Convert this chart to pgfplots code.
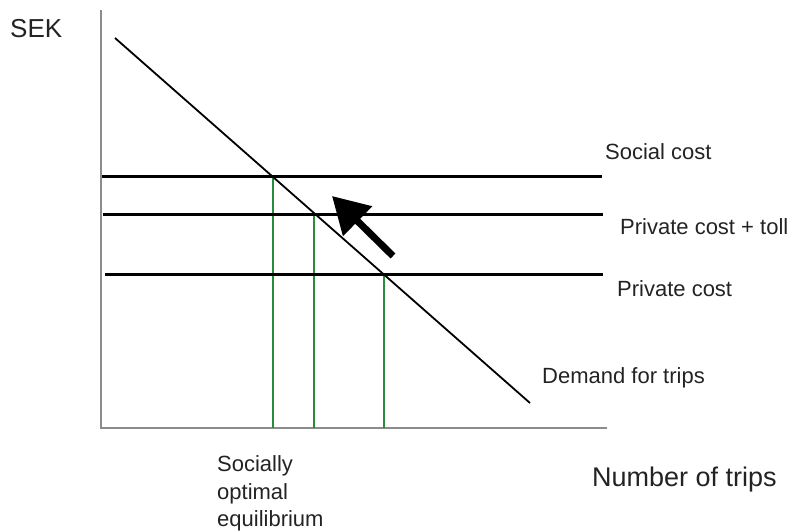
\documentclass[border=0pt]{standalone}
\usepackage{pgfplots}
\pgfplotsset{compat=1.18}
\usepackage{fontspec}
\setmainfont{Liberation Sans}
\usetikzlibrary{arrows.meta}
\definecolor{axgray}{RGB}{140,140,140}
\definecolor{eqgreen}{RGB}{40,140,60}
\definecolor{txt}{RGB}{35,35,35}
\tikzset{lbl/.style={anchor=base west, text=txt, inner sep=0pt, font=\fontsize{22}{27}\selectfont}}
\begin{document}
\begin{tikzpicture}
\useasboundingbox (0,0) rectangle (793pt,531pt);
\begin{axis}[
  scale only axis, width=793pt, height=531pt,
  xmin=0, xmax=793, ymin=0, ymax=531,
  hide axis, clip=false,
]
% axes
\addplot[axgray, line width=2pt] coordinates {(101,521) (101,103)};
\addplot[axgray, line width=2pt] coordinates {(100,103) (607,103)};
% green equilibrium lines
\addplot[eqgreen, line width=1.6pt] coordinates {(273,354) (273,103)};
\addplot[eqgreen, line width=1.6pt] coordinates {(314,316) (314,103)};
\addplot[eqgreen, line width=1.6pt] coordinates {(384,256) (384,103)};
% cost lines
\addplot[black, line width=3pt] coordinates {(102,354) (602,354)};
\addplot[black, line width=3pt] coordinates {(103,316) (603,316)};
\addplot[black, line width=3pt] coordinates {(105,256) (603,256)};
% demand
\addplot[black, line width=1.8pt] coordinates {(115,493) (530,128)};
% arrow
\addplot[black, line width=7pt, -{Triangle[length=36pt,width=40pt]}] coordinates {(393,275) (332,335)};
% labels
\node[lbl, font=\fontsize{26}{30}\selectfont] at (axis cs:10,493) {SEK};
\node[lbl] at (axis cs:605,371) {Social cost};
\node[lbl] at (axis cs:620,296) {Private cost + toll};
\node[lbl] at (axis cs:617,234) {Private cost};
\node[lbl] at (axis cs:542,148) {Demand for trips};
\node[lbl, font=\fontsize{27}{30}\selectfont] at (axis cs:592,45) {Number of trips};
\node[lbl] at (axis cs:217,60) {Socially};
\node[lbl] at (axis cs:217,32) {optimal};
\node[lbl] at (axis cs:217,5) {equilibrium};
\end{axis}
\end{tikzpicture}
\end{document}
